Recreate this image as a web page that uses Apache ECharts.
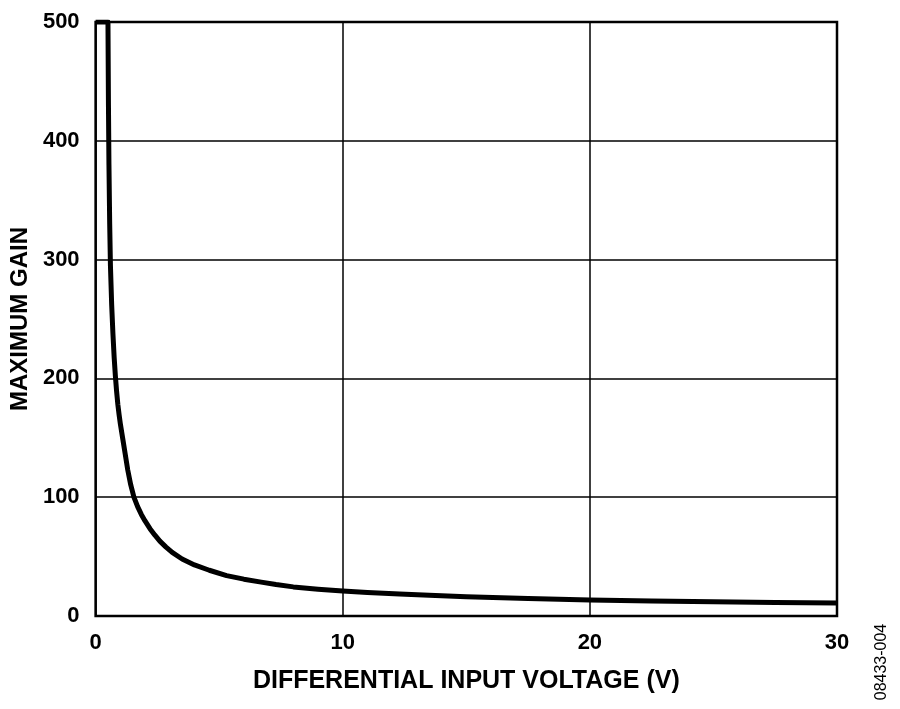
<!DOCTYPE html>
<html>
<head>
<meta charset="utf-8">
<script src="https://cdn.jsdelivr.net/npm/echarts@6/dist/echarts.min.js"></script>
<style>
    html, body { margin: 0; padding: 0; background: #fff; }
    #chart { width: 900px; height: 709px; }
</style>
</head>
<body>
<div id="chart"></div>
<script>
// readings taken off the plotted curve
const voltage = [0, 0.5, 0.52, 0.54, 0.57, 0.6, 0.65, 0.7, 0.75, 0.8, 0.85, 0.9, 0.95, 1.0, 1.1, 1.2, 1.3, 1.42, 1.55, 1.7, 1.85, 2.0, 2.2, 2.4, 2.6, 2.85, 3.1, 3.5, 4.0, 4.6, 5.3, 6.0, 6.7, 7.3, 8, 9, 10, 11, 12.3, 13.5, 15, 17.5, 20, 22.5, 25, 27.5, 30];
const maxGain = [500, 500, 430, 380, 330, 295, 262, 238, 218, 202, 189, 178, 169.5, 162, 149, 136, 123, 110.5, 100, 92, 85.5, 80, 73.5, 68, 63, 58, 53.5, 48, 43, 38.5, 34, 31, 28.5, 26.5, 24.5, 22.6, 21, 19.8, 18.5, 17.4, 16.3, 14.8, 13.5, 12.7, 12, 11.4, 10.9];

const xTicks = [0, 10, 20, 30];
const yTicks = [0, 100, 200, 300, 400, 500];
const figureCode = "08433-004";

const fontFamily = "'Liberation Sans', Arial, sans-serif";
const chart = echarts.init(document.getElementById("chart"));

chart.setOption({
    animation: false,
    grid: {
        left: 95,
        right: 63,
        top: 22,
        bottom: 93,
        show: true,
        borderColor: "#000",
        borderWidth: 2.5,
        backgroundColor: "#fff"
    },
    xAxis: {
        type: "value",
        min: xTicks[0],
        max: xTicks[xTicks.length - 1],
        interval: 10,
        name: "DIFFERENTIAL INPUT VOLTAGE (V)",
        nameLocation: "middle",
        nameGap: 53,
        nameTextStyle: { color: "#000", fontSize: 25, fontWeight: "bold", fontFamily },
        axisLine: { show: false },
        axisTick: { show: false },
        axisLabel: { color: "#000", fontSize: 22, fontWeight: "bold", fontFamily, margin: 16 },
        splitLine: { lineStyle: { color: "#000", width: 1.5 } }
    },
    yAxis: {
        type: "value",
        min: yTicks[0],
        max: yTicks[yTicks.length - 1],
        interval: 100,
        name: "MAXIMUM GAIN",
        nameLocation: "middle",
        nameGap: 63,
        nameTextStyle: { color: "#000", fontSize: 24, fontWeight: "bold", fontFamily },
        axisLine: { show: false },
        axisTick: { show: false },
        axisLabel: { color: "#000", fontSize: 22, fontWeight: "bold", fontFamily, margin: 16 },
        splitLine: { lineStyle: { color: "#000", width: 1.5 } }
    },
    graphic: [{
        type: "text",
        x: 882,
        y: 662,
        rotation: Math.PI / 2,
        style: {
            text: figureCode,
            fill: "#000",
            font: `16px ${fontFamily}`,
            align: "center",
            verticalAlign: "middle"
        }
    }],
    series: [{
        type: "line",
        data: voltage.map((v, i) => [v, maxGain[i]]),
        showSymbol: false,
        smooth: false,
        lineStyle: { color: "#000", width: 5, join: "round", cap: "butt" }
    }]
});
</script>
</body>
</html>
